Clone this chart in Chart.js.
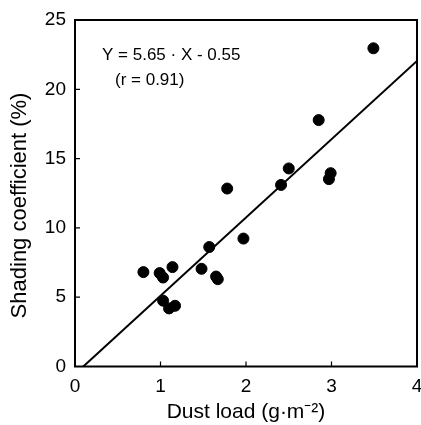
<!DOCTYPE html>
<html>
<head>
<meta charset="utf-8">
<script src="https://cdn.jsdelivr.net/npm/chart.js@4"></script>
<style>
  html, body { margin: 0; padding: 0; background: #fff; }
  #wrap { width: 421px; height: 425px; position: relative; }
</style>
</head>
<body>
<div id="wrap"><canvas id="chart"></canvas></div>
<script>
// measured points (dust load g/m2, shading coefficient %)
var dustLoad = [0.80, 0.99, 1.03, 1.14, 1.03, 1.10, 1.17, 1.48, 1.57, 1.65,
                1.67, 1.97, 1.78, 2.41, 2.50, 2.85, 2.97, 2.99, 3.49];
var shading  = [6.81, 6.74, 6.42, 7.17, 4.75, 4.19, 4.38, 7.05, 8.62, 6.49,
                6.30, 9.23, 12.84, 13.10, 14.29, 17.78, 13.52, 13.95, 22.96];

// regression line end points (Y = 5.65 X - 0.55)
var fitX = [0.097, 4];
var fitY = [0, 22.05];

var xTicks = [0, 1, 2, 3, 4];
var yTicks = [0, 5, 10, 15, 20, 25];

var eqLines = ['Y = 5.65 \u00b7 X - 0.55', '(r = 0.91)'];

var FONT = '"Liberation Sans", Arial, Helvetica, sans-serif';

function toXY(xs, ys) {
    return xs.map(function (x, i) { return { x: x, y: ys[i] }; });
}

// frame + inward ticks + equation text
var framePlugin = {
    id: 'frame',
    afterDraw: function (chart) {
        var ctx = chart.ctx;
        var a = chart.chartArea;
        var sx = chart.scales.x, sy = chart.scales.y;
        ctx.save();
        ctx.strokeStyle = '#000';
        ctx.lineWidth = 2;
        ctx.strokeRect(a.left, a.top, a.right - a.left, a.bottom - a.top);
        ctx.lineWidth = 1.2;
        ctx.beginPath();
        xTicks.forEach(function (v) {
            var px = sx.getPixelForValue(v);
            ctx.moveTo(px, a.bottom); ctx.lineTo(px, a.bottom - 5);
        });
        yTicks.forEach(function (v) {
            var py = sy.getPixelForValue(v);
            ctx.moveTo(a.left, py); ctx.lineTo(a.left + 5, py);
        });
        ctx.stroke();
        ctx.fillStyle = '#000';
        ctx.font = '17px ' + FONT;
        ctx.textBaseline = 'middle';
        ctx.fillText(eqLines[0], a.left + 27, a.top + 35);
        ctx.fillText(eqLines[1], a.left + 40, a.top + 60);
        ctx.restore();
    }
};

new Chart(document.getElementById('chart'), {
    type: 'scatter',
    data: {
        datasets: [{
            data: toXY(dustLoad, shading),
            backgroundColor: '#000',
            borderColor: '#000',
            pointRadius: 5.5,
            pointHoverRadius: 5.5
        }, {
            type: 'line',
            data: toXY(fitX, fitY),
            borderColor: '#000',
            borderWidth: 2,
            pointRadius: 0,
            fill: false
        }]
    },
    options: {
        responsive: true,
        maintainAspectRatio: false,
        animation: false,
        events: [],
        layout: { autoPadding: false, padding: { left: 5, right: 4, top: 20, bottom: 0 } },
        plugins: { legend: { display: false }, tooltip: { enabled: false } },
        scales: {
            x: {
                type: 'linear',
                min: 0, max: 4,
                afterBuildTicks: function (s) { s.ticks = xTicks.map(function (v) { return { value: v }; }); },
                afterFit: function (s) { s.height = 58.5; s.paddingLeft = 0; s.paddingRight = 0; },
                grid: { display: false, drawTicks: false },
                border: { display: false },
                ticks: { color: '#000', padding: 9, font: { family: FONT, size: 19 } },
                title: {
                    display: true,
                    text: 'Dust load (g\u00b7m\u207b\u00b2)',
                    color: '#000',
                    font: { family: FONT, size: 21 },
                    padding: { top: 1, bottom: 0 }
                }
            },
            y: {
                type: 'linear',
                min: 0, max: 25,
                afterBuildTicks: function (s) { s.ticks = yTicks.map(function (v) { return { value: v }; }); },
                afterFit: function (s) { s.width = 70; s.paddingTop = 0; s.paddingBottom = 0; },
                grid: { display: false, drawTicks: false },
                border: { display: false },
                ticks: { color: '#000', padding: 9, font: { family: FONT, size: 19 } },
                title: {
                    display: true,
                    // trailing spaces nudge the centred title down like the original
                    text: 'Shading coefficient (%)\u00a0\u00a0\u00a0\u00a0',
                    color: '#000',
                    font: { family: FONT, size: 22 },
                    padding: { top: 2, bottom: 0 }
                }
            }
        }
    },
    plugins: [framePlugin]
});
</script>
</body>
</html>
